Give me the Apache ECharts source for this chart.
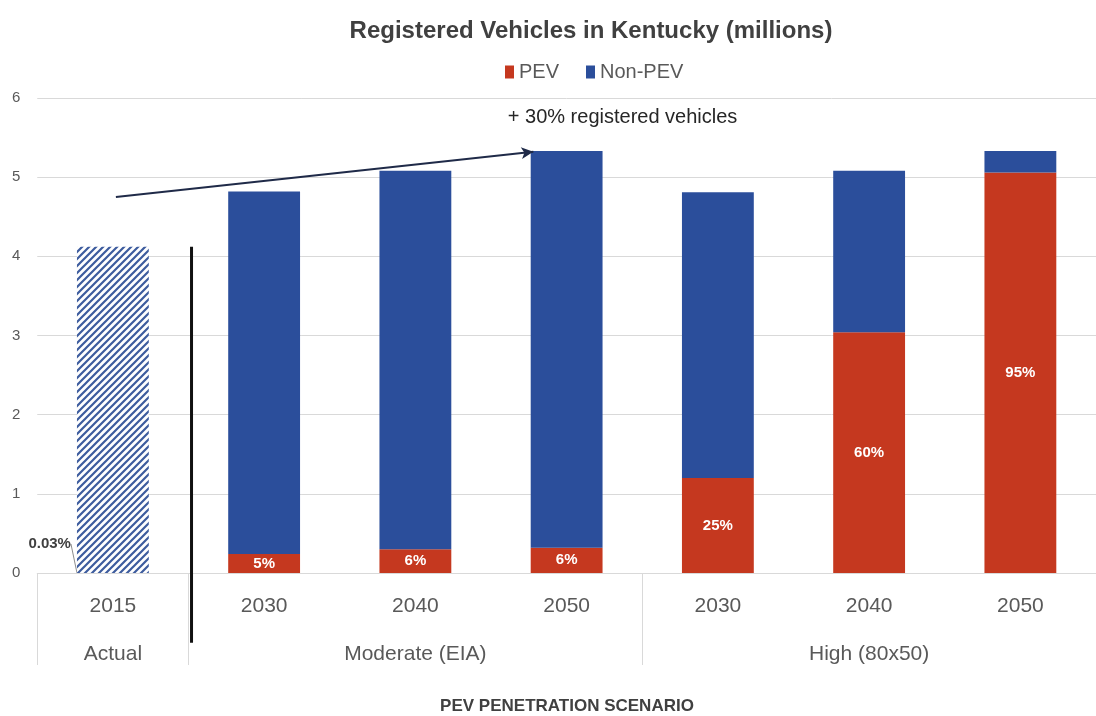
<!DOCTYPE html>
<html><head><meta charset="utf-8">
<script src="https://cdn.jsdelivr.net/npm/echarts@6/dist/echarts.min.js"></script>
<style>html,body{margin:0;padding:0;background:#fff}#c{width:1096px;height:716px}</style>
</head><body><div id="c"></div>
<script>
// ---- data ----
const years = ['2015','2030','2040','2050','2030','2040','2050'];
const groupLabels = ['Actual','','Moderate (EIA)','','','High (80x50)',''];
const pev = [0.0012, 0.24, 0.30, 0.32, 1.20, 3.04, 5.06];
const nonPev = [4.12, 4.58, 4.78, 5.01, 3.61, 2.04, 0.27];
const pevShareLabels = ['0.03%','5%','6%','6%','25%','60%','95%'];
const yTicks = [0,1,2,3,4,5,6];
const growthNote = '+ 30% registered vehicles';
const arrowFrom = [0.02, 4.75];   // in category-index units, millions
const arrowTo = [2.78, 5.32];

const FONT = 'Liberation Sans, Arial, sans-serif';
const RED = '#c5381f', BLUE = '#2b4e9b';

// hatch pattern for the 2015 (actual) bar
const s = 7;
const cv = document.createElement('canvas'); cv.width = s; cv.height = s;
const cx = cv.getContext('2d');
cx.fillStyle = '#fff'; cx.fillRect(0,0,s,s);
cx.strokeStyle = '#3d5c9e'; cx.lineWidth = 2.2;
cx.beginPath();
cx.moveTo(0,s); cx.lineTo(s,0);
cx.moveTo(-1,1); cx.lineTo(1,-1);
cx.moveTo(s-1,s+1); cx.lineTo(s+1,s-1);
cx.stroke();

const chart = echarts.init(document.getElementById('c'), null, {renderer:'canvas'});

const pevData = pev.map((v,i) => {
  if (i === 0) return {value:v, label:{show:true, position:'left', distance:4, color:'#404040', fontSize:15, fontWeight:'bold'}};
  return v;
});
const nonData = nonPev.map((v,i) => i === 0 ? {value:v, itemStyle:{color:{image:cv, repeat:'repeat'}}} : v);

chart.setOption({
  animation:false,
  textStyle:{fontFamily:FONT},
  title:[
    {text:'Registered Vehicles in Kentucky (millions)', left:586, top:14, textAlign:'center',
     textStyle:{fontSize:24, fontWeight:'bold', color:'#404040', fontFamily:FONT}},
    {text:'PEV PENETRATION SCENARIO', left:562, top:693, textAlign:'center',
     textStyle:{fontSize:17, fontWeight:'bold', color:'#404040', fontFamily:FONT}}
  ],
  legend:{data:['PEV','Non-PEV'], left:500, top:57, icon:'rect', itemWidth:9, itemHeight:13, itemGap:27,
    textStyle:{fontSize:20, color:'#595959', fontFamily:FONT}},
  grid:{left:37.25, top:98, width:1067.5, height:475, containLabel:false},
  xAxis:[
    {type:'category', data:years, boundaryGap:true,
     axisLine:{lineStyle:{color:'#d9d9d9'}}, axisTick:{show:false},
     axisLabel:{margin:23, fontSize:21, color:'#595959', fontFamily:FONT, interval:0}},
    {type:'category', data:groupLabels, position:'bottom', boundaryGap:true,
     axisLine:{show:false},
     axisTick:{show:true, length:92, lineStyle:{color:'#d9d9d9'}, interval:(i)=> i===0||i===1||i===4},
     axisLabel:{margin:71, fontSize:21, color:'#595959', fontFamily:FONT, interval:0}},
    {type:'value', min:-0.5, max:6.5, show:false}
  ],
  yAxis:{type:'value', min:yTicks[0], max:yTicks[yTicks.length-1], interval:1,
    axisLine:{show:false}, axisTick:{show:false},
    splitLine:{lineStyle:{color:'#d9d9d9'}},
    axisLabel:{margin:17, fontSize:15, color:'#595959', fontFamily:FONT}},
  series:[
    {name:'PEV', type:'bar', stack:'t', barWidth:'47.5%', data:pevData, itemStyle:{color:RED},
     label:{show:true, position:'inside', color:'#fff', fontWeight:'bold', fontSize:15, fontFamily:FONT,
       formatter:(p)=>pevShareLabels[p.dataIndex]},
     labelLayout:(p)=> p.dataIndex===0 ? {dx:-2, dy:-29} : {},
     labelLine:{show:true, lineStyle:{color:'#8c8c8c', width:1}}},
    {name:'Non-PEV', type:'bar', stack:'t', barWidth:'47.5%', data:nonData, itemStyle:{color:BLUE}},
    {name:'note', type:'line', xAxisIndex:2, yAxisIndex:0, data:[arrowFrom], showSymbol:false, symbol:'none',
     lineStyle:{opacity:0}, silent:true, clip:false,
     markLine:{silent:true, symbol:['none','arrow'], symbolSize:[9,12], label:{show:false},
       lineStyle:{color:'#1f2a48', width:2, type:'solid'},
       data:[[{coord:arrowFrom},{coord:arrowTo}]]}}
  ]
});

const top1 = chart.convertToPixel({xAxisIndex:2, yAxisIndex:0}, [0.52, nonPev[0]+pev[0]]);
const bot1 = chart.convertToPixel({xAxisIndex:2, yAxisIndex:0}, [0.52, -0.88]);
const txt = chart.convertToPixel({xAxisIndex:2, yAxisIndex:0}, [3.37, 5.75]);
chart.setOption({graphic:[
  {type:'line', shape:{x1:top1[0], y1:top1[1], x2:bot1[0], y2:bot1[1]}, style:{stroke:'#111', lineWidth:3}, z:100},
  {type:'text', x:txt[0], y:txt[1], style:{text:growthNote, fill:'#262626', font:'20px '+FONT, textAlign:'center', textVerticalAlign:'middle'}, z:100}
]});
</script></body></html>
